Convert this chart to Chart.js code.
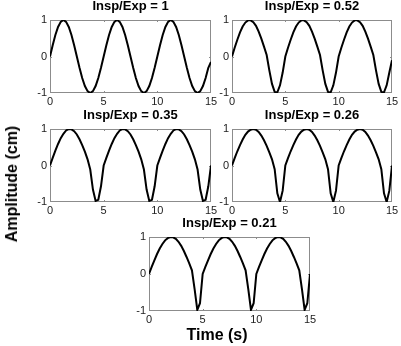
<!DOCTYPE html>
<html lang="en">
  <head>
    <meta charset="UTF-8" />
    <title>Insp/Exp waveforms</title>
    <script src="https://cdn.jsdelivr.net/npm/chart.js"></script>
    <style>
      body { margin: 0; background: #fff; overflow: hidden; }
      #wrap { position: relative; width: 401px; height: 346px; overflow: hidden; }
      canvas { position: absolute; }
      .lab { position: absolute; font: bold 16px "Liberation Sans", Arial, sans-serif; color: #000; white-space: nowrap; }
    </style>
  </head>
  <body>
    <div id="wrap">
      <canvas id="c0" width="225" height="115" style="left:0;top:0"></canvas>
      <canvas id="c1" width="219" height="115" style="left:182px;top:0"></canvas>
      <canvas id="c2" width="225" height="115" style="left:0;top:109px"></canvas>
      <canvas id="c3" width="219" height="115" style="left:182px;top:109px"></canvas>
      <canvas id="c4" width="225" height="116" style="left:99px;top:217px"></canvas>
      <div class="lab" id="ylab" style="left:12px;top:184px;transform:translate(-50%,-50%) rotate(-90deg)">Amplitude (cm)</div>
      <div class="lab" id="xlab" style="left:217px;top:335px;transform:translate(-50%,-50%)">Time (s)</div>
    </div>
    <script>
      const time = [
        0, 0.25, 0.5, 0.75, 1, 1.25, 1.5, 1.75, 2, 2.25, 2.5, 2.75, 3, 3.25, 3.5, 3.75, 4, 4.25, 4.5, 4.75,
        5, 5.25, 5.5, 5.75, 6, 6.25, 6.5, 6.75, 7, 7.25, 7.5, 7.75, 8, 8.25, 8.5, 8.75, 9, 9.25, 9.5, 9.75,
        10, 10.25, 10.5, 10.75, 11, 11.25, 11.5, 11.75, 12, 12.25, 12.5, 12.75, 13, 13.25, 13.5, 13.75, 14, 14.25, 14.5, 14.75,
        15
      ];

      const ratio100 = [
        0, 0.31, 0.59, 0.81, 0.95, 1, 0.95, 0.81, 0.59, 0.31, 0, -0.31, -0.59, -0.81, -0.95, -1, -0.95, -0.81, -0.59, -0.31,
        0, 0.31, 0.59, 0.81, 0.95, 1, 0.95, 0.81, 0.59, 0.31, 0, -0.31, -0.59, -0.81, -0.95, -1, -0.95, -0.81, -0.59, -0.31,
        0, 0.31, 0.59, 0.81, 0.95, 1, 0.95, 0.81, 0.59, 0.31, 0, -0.31, -0.59, -0.81, -0.95, -1, -0.95, -0.81, -0.59, -0.31,
        -0.15
      ];
      const ratio052 = [
        0, 0.24, 0.46, 0.66, 0.82, 0.93, 0.99, 0.99, 0.94, 0.84, 0.68, 0.49, 0.27, 0.04, -0.38, -0.75, -0.97, -0.98, -0.79, -0.44,
        0, 0.24, 0.46, 0.66, 0.82, 0.93, 0.99, 0.99, 0.94, 0.84, 0.68, 0.49, 0.27, 0.04, -0.38, -0.75, -0.97, -0.98, -0.79, -0.44,
        0, 0.24, 0.46, 0.66, 0.82, 0.93, 0.99, 0.99, 0.94, 0.84, 0.68, 0.49, 0.27, 0.04, -0.38, -0.75, -0.97, -0.98, -0.79, -0.44,
        -0.1
      ];
      const ratio035 = [
        0, 0.21, 0.41, 0.59, 0.75, 0.87, 0.96, 1, 0.99, 0.94, 0.85, 0.72, 0.56, 0.38, 0.17, -0.11, -0.66, -0.97, -0.94, -0.57,
        0, 0.21, 0.41, 0.59, 0.75, 0.87, 0.96, 1, 0.99, 0.94, 0.85, 0.72, 0.56, 0.38, 0.17, -0.11, -0.66, -0.97, -0.94, -0.57,
        0, 0.21, 0.41, 0.59, 0.75, 0.87, 0.96, 1, 0.99, 0.94, 0.85, 0.72, 0.56, 0.38, 0.17, -0.11, -0.66, -0.97, -0.94, -0.57,
        0
      ];
      const ratio026 = [
        0, 0.2, 0.39, 0.56, 0.71, 0.84, 0.93, 0.98, 1, 0.98, 0.92, 0.82, 0.69, 0.54, 0.36, 0.17, -0.1, -0.76, -1, -0.69,
        0, 0.2, 0.39, 0.56, 0.71, 0.84, 0.93, 0.98, 1, 0.98, 0.92, 0.82, 0.69, 0.54, 0.36, 0.17, -0.1, -0.76, -1, -0.69,
        0, 0.2, 0.39, 0.56, 0.71, 0.84, 0.93, 0.98, 1, 0.98, 0.92, 0.82, 0.69, 0.54, 0.36, 0.17, -0.1, -0.76, -1, -0.69,
        0
      ];
      const ratio021 = [
        0, 0.19, 0.37, 0.54, 0.69, 0.81, 0.91, 0.97, 1, 0.99, 0.95, 0.87, 0.76, 0.62, 0.46, 0.29, 0.1, -0.41, -0.97, -0.79,
        0, 0.19, 0.37, 0.54, 0.69, 0.81, 0.91, 0.97, 1, 0.99, 0.95, 0.87, 0.76, 0.62, 0.46, 0.29, 0.1, -0.41, -0.97, -0.79,
        0, 0.19, 0.37, 0.54, 0.69, 0.81, 0.91, 0.97, 1, 0.99, 0.95, 0.87, 0.76, 0.62, 0.46, 0.29, 0.1, -0.41, -0.97, -0.79,
        0
      ];

      const titles = ["Insp/Exp = 1", "Insp/Exp = 0.52", "Insp/Exp = 0.35", "Insp/Exp = 0.26", "Insp/Exp = 0.21"];
      const series = [ratio100, ratio052, ratio035, ratio026, ratio021];
      const xTicks = [0, 5, 10, 15];
      const yTicks = [-1, 0, 1];
      const rightPad = [14, 9, 14, 9, 14];

      Chart.defaults.font.family = '"Liberation Sans", Arial, sans-serif';

      // matlab-like grey box with small inward ticks
      const framePlugin = {
        id: "frame",
        beforeDatasetsDraw(chart) {
          const { ctx, chartArea: a, scales } = chart;
          ctx.save();
          ctx.strokeStyle = "#8c8c8c";
          ctx.lineWidth = 1;
          ctx.strokeRect(a.left + 0.5, a.top + 0.5, a.width - 1, a.height - 1);
          ctx.beginPath();
          [5, 10].forEach((v) => {
            const px = Math.round(scales.x.getPixelForValue(v)) + 0.5;
            ctx.moveTo(px, a.top);
            ctx.lineTo(px, a.top + 2);
            ctx.moveTo(px, a.bottom);
            ctx.lineTo(px, a.bottom - 2);
          });
          const py = Math.round(scales.y.getPixelForValue(0)) + 0.5;
          ctx.moveTo(a.left, py);
          ctx.lineTo(a.left + 2, py);
          ctx.moveTo(a.right, py);
          ctx.lineTo(a.right - 2, py);
          ctx.stroke();
          ctx.restore();
        },
      };

      function drawPanel(i) {
        const ctx = document.getElementById("c" + i).getContext("2d");
        new Chart(ctx, {
          type: "line",
          data: {
            datasets: [
              {
                data: time.map((t, k) => ({ x: t, y: series[i][k] })),
                borderColor: "#000",
                borderWidth: 2,
                pointRadius: 0,
                tension: 0,
              },
            ],
          },
          options: {
            responsive: false,
            animation: false,
            devicePixelRatio: 1,
            layout: { padding: { left: 0, right: rightPad[i], top: 0, bottom: 0 } },
            plugins: {
              legend: { display: false },
              tooltip: { enabled: false },
              title: {
                display: true,
                fullSize: false, // centre over the plot box, not the canvas
                text: titles[i],
                color: "#000",
                font: { size: 13, weight: "bold", lineHeight: 1 },
                padding: { top: 0, bottom: 7 },
              },
            },
            scales: {
              x: {
                type: "linear",
                min: 0,
                max: 15,
                afterFit: (s) => { s.height = 22; },
                afterBuildTicks: (s) => { s.ticks = xTicks.map((v) => ({ value: v })); },
                grid: { display: false, drawTicks: false },
                border: { display: false },
                ticks: { color: "#222", font: { size: 11 }, padding: 2, maxRotation: 0 },
              },
              y: {
                min: -1,
                max: 1,
                afterFit: (s) => { s.width = 50; },
                afterBuildTicks: (s) => { s.ticks = yTicks.map((v) => ({ value: v })); },
                grid: { display: false, drawTicks: false },
                border: { display: false },
                ticks: { color: "#222", font: { size: 11 }, padding: 3 },
              },
            },
          },
          plugins: [framePlugin],
        });
      }

      for (let i = 0; i < 5; i++) drawPanel(i);
    </script>
  </body>
</html>
